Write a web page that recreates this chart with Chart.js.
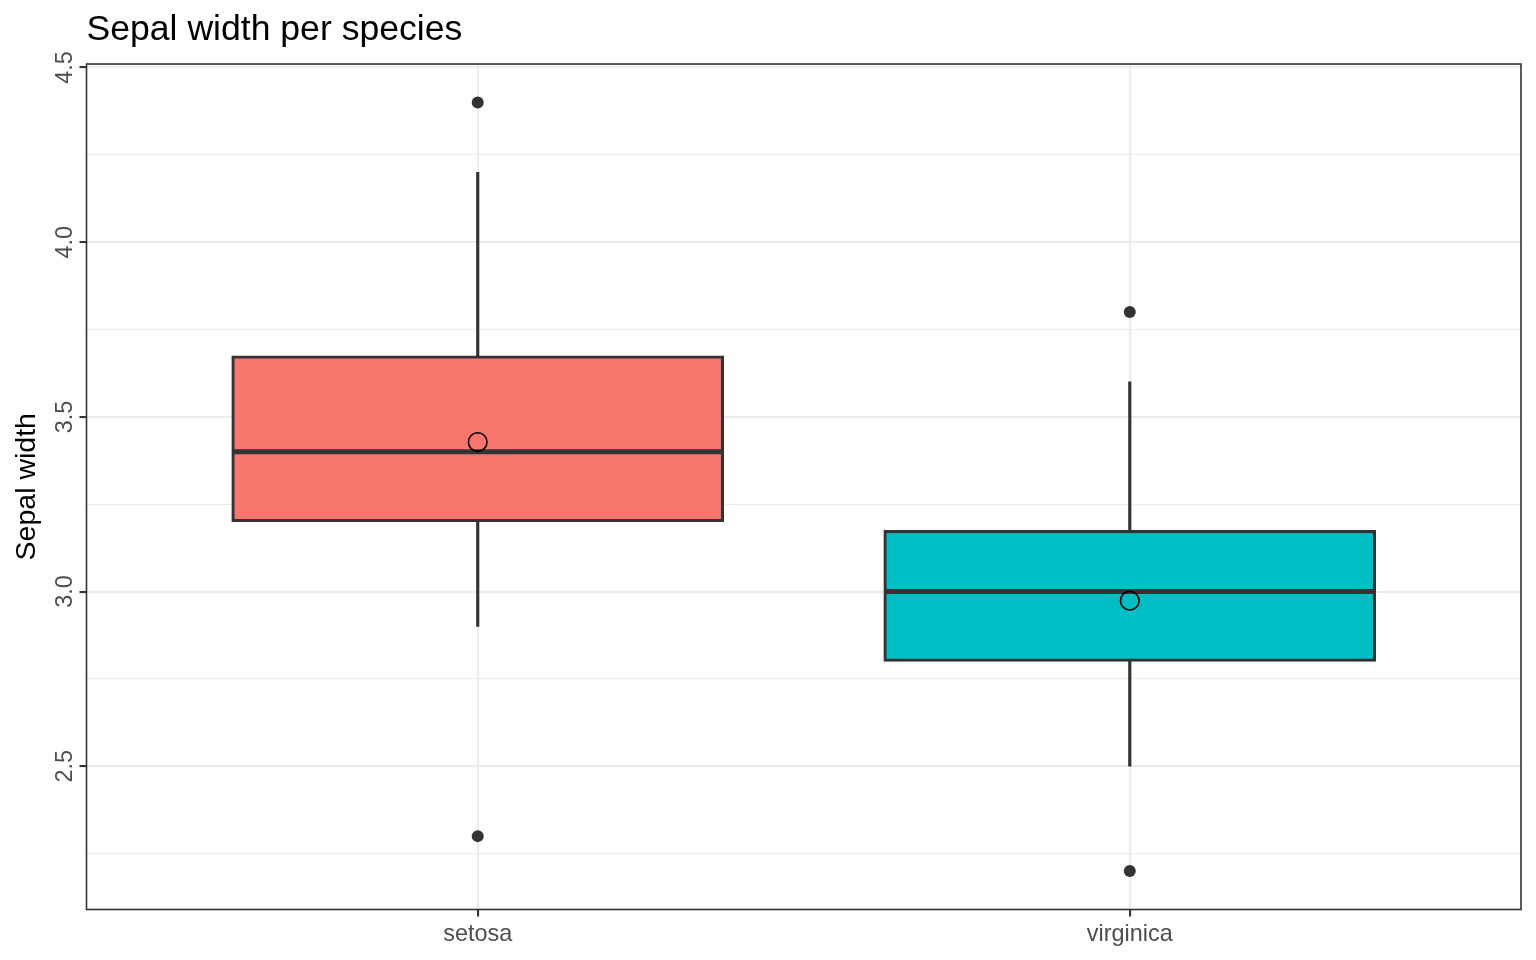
<!DOCTYPE html>
<html><head><meta charset="utf-8">
<script src="https://cdn.jsdelivr.net/npm/chart.js@4/dist/chart.umd.min.js"></script>
<style>html,body{margin:0;padding:0;background:#fff}#wrap{width:1536px;height:960px}</style>
</head><body><div id="wrap"><canvas id="c" width="1536" height="960"></canvas></div>
<script>
const species = ['setosa', 'virginica'];
const speciesPos = [1, 2];
const q1 = [3.2, 2.8];
const median = [3.4, 3.0];
const q3 = [3.675, 3.175];
const whiskerLow = [2.9, 2.5];
const whiskerHigh = [4.2, 3.6];
const means = [3.428, 2.974];
const outlierPos = [1, 1, 2, 2];
const outlierValues = [4.4, 2.3, 3.8, 2.2];
const boxColors = ['#F8766D', '#00BFC4'];
const yMajorTicks = [2.5, 3.0, 3.5, 4.0, 4.5];
const yMinorTicks = [2.25, 2.75, 3.25, 3.75, 4.25];
const yTickLabels = ['2.5', '3.0', '3.5', '4.0', '4.5'];

const FONT = '"Liberation Sans", Arial, Helvetica, sans-serif';
Chart.defaults.font.family = FONT;

const whiskerData = [];
speciesPos.forEach((p, i) => {
  whiskerData.push({x: p, y: [q3[i], whiskerHigh[i]]});
  whiskerData.push({x: p, y: [whiskerLow[i], q1[i]]});
});
const boxData = speciesPos.map((p, i) => ({x: p, y: [q1[i], q3[i]]}));
const medianData = speciesPos.map((p, i) => ({x: p, y: median[i]}));
const meanData = speciesPos.map((p, i) => ({x: p, y: means[i]}));
const outlierData = outlierPos.map((p, i) => ({x: p, y: outlierValues[i]}));

const isMajor = v => yMajorTicks.some(m => Math.abs(m - v) < 1e-9);

const panelPlugin = {
  id: 'panel',
  afterDraw(chart) {
    const {ctx, chartArea: a, scales: {y}} = chart;
    ctx.save();
    ctx.strokeStyle = '#333333';
    ctx.lineWidth = 1.6;
    ctx.strokeRect(a.left, a.top, a.right - a.left, a.bottom - a.top);
    ctx.fillStyle = '#4D4D4D';
    ctx.font = '23.4px ' + FONT;
    ctx.textAlign = 'center';
    ctx.textBaseline = 'alphabetic';
    yMajorTicks.forEach((v, i) => {
      const py = y.getPixelForValue(v);
      ctx.save();
      ctx.translate(a.left - 14.5, py);
      ctx.rotate(-Math.PI / 2);
      ctx.fillText(yTickLabels[i], 0, 0);
      ctx.restore();
    });
    ctx.restore();
  }
};

new Chart(document.getElementById('c'), {
  type: 'bar',
  data: {
    datasets: [
      {type: 'bar', data: whiskerData, backgroundColor: '#333333', barThickness: 2.5, grouped: false, order: 5},
      {type: 'bar', data: boxData, backgroundColor: boxColors, borderColor: '#333333', borderWidth: 3.1,
        borderSkipped: false, barThickness: 492, grouped: false, order: 4},
      {type: 'line', data: medianData, showLine: false, pointStyle: 'line', pointRadius: 244.5,
        pointBorderWidth: 5, pointBorderColor: '#333333', borderColor: '#333333', order: 3, clip: false},
      {type: 'line', data: outlierData, showLine: false, pointStyle: 'circle', pointRadius: 6,
        pointBorderWidth: 0, pointBackgroundColor: '#333333', borderColor: '#333333', order: 2},
      {type: 'line', data: meanData, showLine: false, pointStyle: 'circle', pointRadius: 9.3,
        pointBorderWidth: 1.6, pointBorderColor: '#000000', pointBackgroundColor: 'rgba(0,0,0,0)', order: 1}
    ]
  },
  options: {
    responsive: false,
    animation: false,
    events: [],
    layout: {autoPadding: false, padding: {left: 0, right: 15, top: 0, bottom: 0}},
    plugins: {
      legend: {display: false},
      tooltip: {enabled: false},
      title: {
        display: true, text: 'Sepal width per species', align: 'start', fullSize: false,
        color: '#000000', font: {size: 35.6, weight: 'normal'}, padding: {top: 9, bottom: 12.3}
      }
    },
    scales: {
      x: {
        type: 'linear', min: 0.4, max: 2.6, offset: false,
        afterBuildTicks: s => { s.ticks = speciesPos.map(v => ({value: v})); },
        afterFit: s => { s.height = 50.5; },
        ticks: {
          callback: v => { const i = speciesPos.indexOf(v); return i >= 0 ? species[i] : ''; },
          color: '#4D4D4D', font: {size: 23.4}, padding: 4, maxRotation: 0, autoSkip: false
        },
        grid: {offset: false, color: '#EBEBEB', lineWidth: 2.1, tickLength: 7, tickColor: '#333333', tickWidth: 2.1},
        border: {display: false}
      },
      y: {
        type: 'linear', min: 2.09, max: 4.51,
        afterBuildTicks: s => { s.ticks = [...yMinorTicks, ...yMajorTicks].sort((a, b) => a - b).map(v => ({value: v})); },
        afterFit: s => { s.width = 86.5; },
        ticks: {display: false},
        grid: {
          color: '#EBEBEB',
          lineWidth: c => isMajor(c.tick.value) ? 2.1 : 1.05,
          tickLength: 7,
          tickColor: c => isMajor(c.tick.value) ? '#333333' : 'rgba(0,0,0,0)',
          tickWidth: 2.1
        },
        border: {display: false},
        title: {display: true, text: 'Sepal width', color: '#000000', font: {size: 28.5}, padding: {top: 10, bottom: 0}}
      }
    }
  },
  plugins: [panelPlugin]
});
</script>
</body></html>
